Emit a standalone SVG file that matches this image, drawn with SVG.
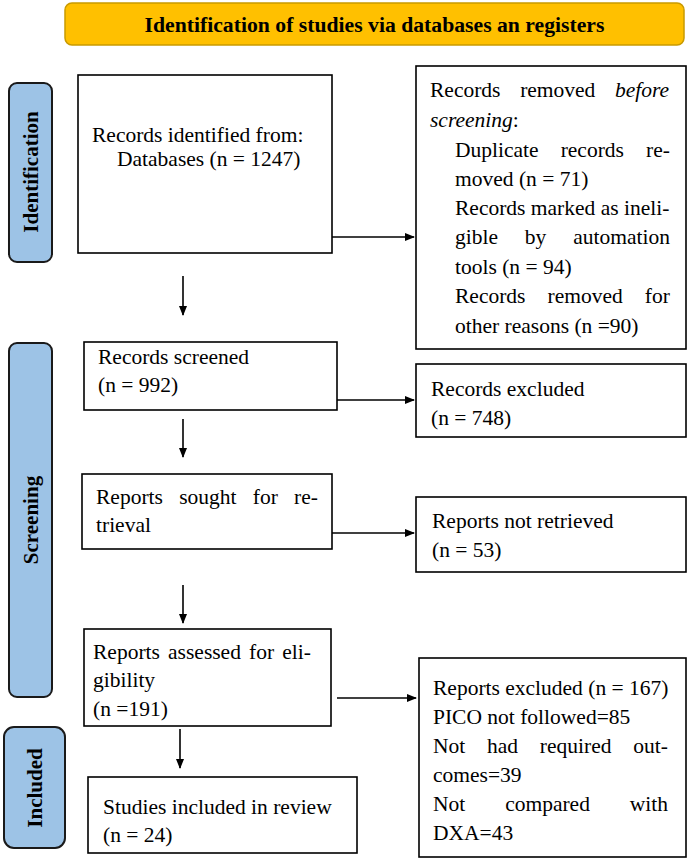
<svg xmlns="http://www.w3.org/2000/svg" width="689" height="861" viewBox="0 0 689 861">
<defs>
<marker id="ah" markerWidth="10" markerHeight="10" refX="9" refY="5" orient="auto" markerUnits="userSpaceOnUse">
<path d="M0,1 L10,5 L0,9 Z" fill="#000"/>
</marker>
</defs>
<style>
.box{fill:#fff;stroke:#000;stroke-width:1.6}
.lbl{fill:#9DC3E6;stroke:#1a1a1a;stroke-width:2}
.t{font-family:"Liberation Serif","Times New Roman",serif;font-size:21.5px;fill:#000}
.b{font-family:"Liberation Serif","Times New Roman",serif;font-size:21px;font-weight:bold;fill:#000}
.c{stroke:#000;stroke-width:1.6;fill:none;marker-end:url(#ah)}
</style>
<rect width="689" height="861" fill="#fff"/>
<g id="title">
<rect x="65" y="3" width="619" height="42" rx="7" fill="#FFC000" stroke="#C99A00" stroke-width="1.5"/>
<text class="b" x="374.5" y="32" text-anchor="middle" style="font-size:21.7px">Identification of studies via databases an registers</text>
</g>
<g id="lbl-identification">
<rect class="lbl" x="9" y="83" width="43" height="179" rx="8"/>
<text class="b" transform="translate(38,172) rotate(-90)" text-anchor="middle">Identification</text>
</g>
<g id="lbl-screening">
<rect class="lbl" x="9" y="343" width="43" height="354" rx="8"/>
<text class="b" transform="translate(38,520) rotate(-90)" text-anchor="middle">Screening</text>
</g>
<g id="lbl-included">
<rect class="lbl" x="4" y="727" width="61" height="121" rx="10"/>
<text class="b" transform="translate(42,788) rotate(-90)" text-anchor="middle">Included</text>
</g>
<g id="n-identified">
<rect class="box" x="78" y="75" width="254" height="178"/>
<text class="t" x="92" y="142">Records identified from:</text>
<text class="t" x="117" y="166">Databases (n = 1247)</text>
</g>
<g id="n-removed">
<rect class="box" x="416" y="66" width="270" height="283"/>
<text class="t" x="430" y="97" word-spacing="14.3">Records removed <tspan font-style="italic">before</tspan></text>
<text class="t" x="430" y="127"><tspan font-style="italic">screening</tspan>:</text>
<text class="t" x="455" y="157" word-spacing="16.7">Duplicate records re-</text>
<text class="t" x="455" y="186">moved (n = 71)</text>
<text class="t" x="455" y="215">Records marked as ineli-</text>
<text class="t" x="455" y="244" word-spacing="21.5">gible by automation</text>
<text class="t" x="455" y="274">tools (n = 94)</text>
<text class="t" x="455" y="303" word-spacing="16.7">Records removed for</text>
<text class="t" x="455" y="333">other reasons (n =90)</text>
</g>
<g id="n-screened">
<rect class="box" x="84" y="342" width="253" height="68"/>
<text class="t" x="98" y="364">Records screened</text>
<text class="t" x="98" y="392">(n = 992)</text>
</g>
<g id="n-excluded">
<rect class="box" x="416" y="364" width="270" height="73"/>
<text class="t" x="431" y="396">Records excluded</text>
<text class="t" x="431" y="425">(n = 748)</text>
</g>
<g id="n-sought">
<rect class="box" x="82" y="474" width="250" height="75"/>
<text class="t" x="96" y="504" word-spacing="10.9">Reports sought for re-</text>
<text class="t" x="96" y="532">trieval</text>
</g>
<g id="n-notretrieved">
<rect class="box" x="416" y="497" width="270" height="75"/>
<text class="t" x="432" y="528">Reports not retrieved</text>
<text class="t" x="432" y="557">(n = 53)</text>
</g>
<g id="n-assessed">
<rect class="box" x="84" y="629" width="247" height="97"/>
<text class="t" x="93" y="659" word-spacing="2.8">Reports assessed for eli-</text>
<text class="t" x="93" y="687">gibility</text>
<text class="t" x="93" y="716">(n =191)</text>
</g>
<g id="n-reportsexcluded">
<rect class="box" x="419" y="658" width="267" height="199"/>
<text class="t" x="433" y="695">Reports excluded (n = 167)</text>
<text class="t" x="433" y="724">PICO not followed=85</text>
<text class="t" x="433" y="753" word-spacing="16.4">Not had required out-</text>
<text class="t" x="433" y="782">comes=39</text>
<text class="t" x="433" y="811" word-spacing="34.5">Not compared with</text>
<text class="t" x="433" y="840">DXA=43</text>
</g>
<g id="n-included">
<rect class="box" x="88" y="777" width="269" height="76"/>
<text class="t" x="103" y="814">Studies included in review</text>
<text class="t" x="103" y="842">(n = 24)</text>
</g>
<g id="connectors">
<line class="c" x1="332" y1="237" x2="414" y2="237"/>
<line class="c" x1="183" y1="276" x2="183" y2="315"/>
<line class="c" x1="337" y1="400" x2="414" y2="400"/>
<line class="c" x1="183" y1="419" x2="183" y2="457"/>
<line class="c" x1="332" y1="533" x2="414" y2="533"/>
<line class="c" x1="183" y1="585" x2="183" y2="623"/>
<line class="c" x1="337" y1="698" x2="416" y2="698"/>
<line class="c" x1="180" y1="729" x2="180" y2="768"/>
</g>
</svg>
